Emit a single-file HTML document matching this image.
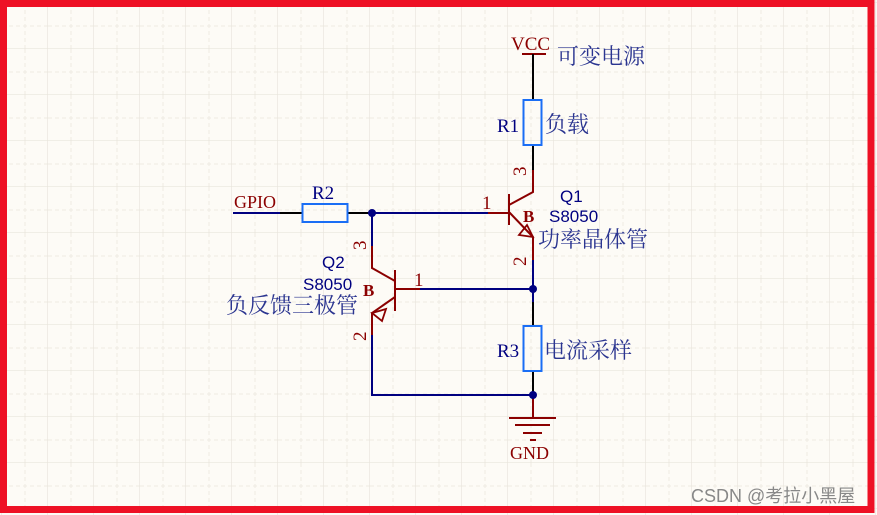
<!DOCTYPE html>
<html><head><meta charset="utf-8"><style>
html,body{margin:0;padding:0;background:#fdfbf6;}
svg{display:block}
.s{font-family:"Liberation Serif","Noto Serif CJK SC",serif}
.c{font-family:"Liberation Serif","Noto Serif CJK SC",serif}
.a{font-family:"Liberation Sans",sans-serif}
</style></head><body>
<svg width="877" height="515" viewBox="0 0 877 515" xmlns="http://www.w3.org/2000/svg">
<defs>
<pattern id="g" x="2" y="3" width="46" height="46" patternUnits="userSpaceOnUse">
<path d="M23 0V46M0 23H46" stroke="#eeebe3" stroke-width="1" stroke-dasharray="4 3" fill="none"/>
<path d="M46 0V46M0 46H46" stroke="#e8e5dc" stroke-width="1.3" fill="none"/>
</pattern>
</defs>
<rect width="877" height="515" fill="#fdfbf6"/>
<rect x="0" y="0" width="877" height="515" fill="url(#g)"/>
<path d="M3.5 3.5H871V509.5H3.5Z" fill="none" stroke="#ee1125" stroke-width="7"/>
<g fill="none" stroke-width="2">
<path d="M522 54H546" stroke="#8b0000"/>
<path d="M533 54V100M533 145V170" stroke="#000"/>
<rect x="523.5" y="100" width="18" height="45" stroke="#1a6ef5"/>
<path d="M533 170V192L509 205M509 194V225M509 212L533 237V260M488 213H509" stroke="#8b0000"/>
<polygon points="533,237 519,235 527,225" stroke="#8b0000" stroke-width="1.8"/>
<path d="M533 260V302" stroke="#000080"/>
<path d="M533 302V326M533 371V395" stroke="#000"/>
<rect x="523.5" y="326" width="18" height="45" stroke="#1a6ef5"/>
<path d="M533 395V418M509 418H556M515 425H550M523 433H542M530 440H536" stroke="#8b0000"/>
<path d="M233 213H280M372 213H488" stroke="#000080"/>
<path d="M280 213H302M348 213H372" stroke="#000"/>
<rect x="302.5" y="204" width="45" height="18" stroke="#1a6ef5"/>
<path d="M372 213V246M420 289H533M372 335V395H533" stroke="#000080"/>
<path d="M372 246V268L395 281M395 270V311M395 297L372 313V335M395 289H420" stroke="#8b0000"/>
<polygon points="372,313 386,309 382,321" stroke="#8b0000" stroke-width="1.8"/>
</g>
<g fill="#000080"><circle cx="372" cy="213" r="4"/><circle cx="533" cy="289" r="4"/><circle cx="533" cy="395" r="4"/></g>
<g class="s" fill="#8b0000" font-size="18">
<text x="511" y="50" font-size="19">VCC</text>
<text x="234" y="208">GPIO</text>
<text x="510" y="459">GND</text>
<text x="482" y="209" font-size="19">1</text>
<text x="414" y="286" font-size="19">1</text>
<text transform="translate(526,176) rotate(-90)" font-size="19">3</text>
<text transform="translate(526,266) rotate(-90)" font-size="19">2</text>
<text transform="translate(366,250) rotate(-90)" font-size="19">3</text>
<text transform="translate(366,341) rotate(-90)" font-size="19">2</text>
<text x="523" y="222" font-size="17" font-weight="bold">B</text>
<text x="363" y="296" font-size="17" font-weight="bold">B</text>
</g>
<g class="s" fill="#000080" font-size="19">
<text x="497" y="132">R1</text>
<text x="312" y="199">R2</text>
<text x="497" y="357">R3</text>
</g>
<g class="c" fill="#2b3590" font-size="22">
<text x="557" y="64">可变电源</text>
<text x="545" y="132">负载</text>
<text x="538" y="247">功率晶体管</text>
<text x="226" y="313">负反馈三极管</text>
<text x="544" y="358">电流采样</text>
</g>
<g class="a" fill="#000080" font-size="17">
<text x="560" y="202">Q1</text>
<text x="549" y="222">S8050</text>
<text x="322" y="268">Q2</text>
<text x="303" y="290">S8050</text>
</g>
<text x="691" y="502" class="a" font-size="18" fill="#888">CSDN @<tspan font-family="Noto Sans CJK SC">考拉小黑屋</tspan></text>
</svg>
</body></html>
